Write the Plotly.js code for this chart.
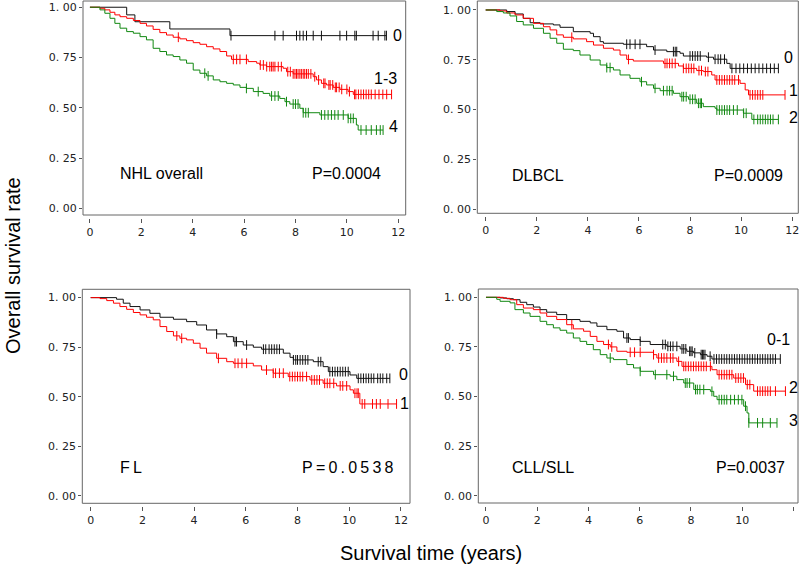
<!DOCTYPE html>
<html>
<head>
<meta charset="utf-8">
<script src="https://cdn.plot.ly/plotly-3.0.1.min.js"></script>
<style>html,body{margin:0;padding:0;background:#fff}</style>
</head>
<body>
<div id="chart" style="width:800px;height:565px"></div>
<script>
// ---------------- DATA ----------------
const xTicks = [0, 2, 4, 6, 8, 10, 12];
const yTicks = [0, 0.25, 0.5, 0.75, 1];
const yTickText = ['0. 00', '0. 25', '0. 50', '0. 75', '1. 00'];
const panelNames = ['NHL overall', 'DLBCL', 'F\u2009L', 'CLL/SLL'];
const panelP = ['P=0.0004', 'P=0.0009', 'P\u2009=\u20090\u2009.\u20090\u20095\u20093\u20098', 'P=0.0037'];

// NHL overall
const nhl0_t = [1.43, 1.75, 3.11, 5.45];
const nhl0_s = [0.962, 0.928, 0.892, 0.859];
const nhl0_c = [5.49, 7.2, 7.52, 8.04, 8.17, 8.3, 8.43, 8.69, 9.01, 9.73, 9.99, 10.31, 10.37, 11.02, 11.22, 11.48, 11.54];
const nhl13_t = [0.39, 0.58, 0.78, 0.97, 1.17, 1.43, 1.69, 1.95, 2.20, 2.46, 2.72, 2.98, 3.24, 3.50, 3.76, 4.02, 4.28, 4.54, 4.80, 5.06, 5.32, 5.51, 6.16, 6.49, 6.61, 6.87, 7.52, 7.65, 7.91, 8.69, 8.82, 9.01, 9.21, 9.47, 9.73, 10.05, 10.25];
const nhl13_s = [0.995, 0.987, 0.975, 0.962, 0.953, 0.945, 0.934, 0.920, 0.907, 0.890, 0.874, 0.862, 0.851, 0.843, 0.834, 0.824, 0.816, 0.804, 0.793, 0.780, 0.758, 0.741, 0.730, 0.722, 0.713, 0.705, 0.697, 0.680, 0.669, 0.655, 0.639, 0.622, 0.614, 0.602, 0.592, 0.581, 0.567];
const nhl13_c = [3.44, 5.58, 5.71, 5.84, 6.09, 6.63, 6.75, 6.88, 7.0, 7.07, 7.13, 7.2, 7.33, 7.45, 7.7, 7.8, 7.91, 7.98, 8.04, 8.1, 8.17, 8.23, 8.3, 8.36, 8.43, 8.5, 8.6, 8.75, 8.9, 9.1, 9.15, 9.3, 9.35, 9.45, 9.55, 9.6, 9.7, 9.8, 10.0, 10.1, 10.3, 10.35, 10.45, 10.55, 10.65, 10.75, 10.85, 10.95, 11.1, 11.25, 11.4, 11.55, 11.74];
const nhl4_t = [0.39, 0.58, 0.78, 0.97, 1.17, 1.43, 1.69, 1.95, 2.20, 2.46, 2.72, 2.98, 3.24, 3.50, 3.76, 4.02, 4.28, 4.54, 4.80, 5.06, 5.32, 5.58, 5.84, 6.09, 6.36, 6.74, 7.0, 7.39, 7.59, 7.78, 8.17, 8.30, 8.95, 10.05, 10.37, 10.44];
const nhl4_s = [0.987, 0.970, 0.945, 0.920, 0.896, 0.879, 0.871, 0.854, 0.838, 0.796, 0.780, 0.763, 0.755, 0.738, 0.722, 0.688, 0.672, 0.659, 0.639, 0.630, 0.622, 0.614, 0.602, 0.597, 0.581, 0.572, 0.559, 0.547, 0.531, 0.519, 0.498, 0.476, 0.465, 0.448, 0.415, 0.390];
const nhl4_c = [4.47, 4.6, 6.09, 6.55, 7.07, 7.2, 7.33, 7.65, 7.91, 8.0, 8.1, 8.3, 8.4, 8.5, 9.01, 9.14, 9.27, 9.4, 9.53, 9.66, 9.86, 10.05, 10.15, 10.25, 10.55, 10.75, 10.95, 11.15, 11.3, 11.41];

// DLBCL
const dl0_t = [0.82, 1.15, 1.47, 1.74, 2.13, 2.65, 2.91, 3.43, 4.09, 4.22, 4.48, 4.61, 5.39, 6.30, 6.57, 7.09, 7.61, 7.74, 8.65, 8.92, 9.44, 9.57];
const dl0_s = [0.992, 0.980, 0.958, 0.936, 0.930, 0.925, 0.913, 0.891, 0.883, 0.866, 0.841, 0.833, 0.828, 0.816, 0.799, 0.791, 0.783, 0.769, 0.763, 0.753, 0.732, 0.707];
const dl0_c = [5.52, 5.65, 5.85, 6.04, 6.63, 7.35, 7.42, 7.48, 8.0, 8.1, 8.2, 8.3, 8.4, 8.72, 8.98, 9.1, 9.2, 9.35, 9.64, 9.8, 9.95, 10.1, 10.25, 10.4, 10.55, 10.7, 10.85, 11.0, 11.15, 11.3, 11.46];
const dl1_t = [0.56, 0.82, 1.15, 1.47, 1.87, 2.26, 2.52, 2.78, 3.04, 3.43, 3.95, 4.22, 4.61, 5.0, 5.26, 5.52, 5.78, 6.96, 7.55, 7.74, 8.26, 8.52, 8.85, 8.98, 9.96, 10.16, 10.29];
const dl1_s = [0.995, 0.985, 0.975, 0.958, 0.933, 0.916, 0.900, 0.875, 0.863, 0.855, 0.841, 0.824, 0.808, 0.799, 0.774, 0.752, 0.744, 0.732, 0.719, 0.707, 0.696, 0.691, 0.674, 0.649, 0.632, 0.599, 0.574];
const dl1_c = [3.37, 5.59, 7.02, 7.1, 7.2, 7.3, 7.42, 7.74, 7.85, 7.95, 8.05, 8.15, 8.35, 8.45, 8.6, 8.7, 9.05, 9.15, 9.25, 9.35, 9.45, 9.55, 9.65, 9.75, 9.9, 10.35, 10.45, 10.55, 10.65, 10.75, 10.85, 11.72];
const dl2_t = [0.43, 0.69, 0.95, 1.21, 1.47, 1.87, 2.26, 2.52, 2.78, 3.04, 3.43, 3.69, 4.09, 4.48, 4.74, 5.0, 5.26, 5.65, 6.04, 6.30, 6.57, 6.83, 7.35, 7.61, 7.94, 8.26, 8.52, 8.98, 9.05, 10.09, 10.42];
const dl2_s = [0.992, 0.985, 0.970, 0.942, 0.925, 0.908, 0.883, 0.858, 0.833, 0.803, 0.796, 0.774, 0.749, 0.724, 0.711, 0.699, 0.674, 0.657, 0.640, 0.624, 0.607, 0.595, 0.582, 0.565, 0.552, 0.532, 0.515, 0.507, 0.498, 0.482, 0.451];
const dl2_c = [4.74, 4.87, 6.1, 6.63, 6.96, 7.1, 7.2, 7.3, 7.68, 7.75, 7.85, 8.0, 8.1, 8.2, 8.33, 8.4, 8.45, 9.05, 9.15, 9.25, 9.35, 9.45, 9.55, 9.7, 9.85, 10.1, 10.2, 10.5, 10.65, 10.75, 10.85, 10.95, 11.05, 11.15, 11.25, 11.46];

// FL
const fl0_t = [1.0, 1.26, 1.52, 1.91, 2.29, 2.68, 3.20, 3.71, 4.10, 4.48, 4.87, 5.26, 5.52, 5.90, 6.29, 6.61, 7.45, 7.71, 7.84, 8.61, 8.99, 9.19, 10.03, 10.29];
const fl0_s = [0.992, 0.972, 0.955, 0.938, 0.921, 0.901, 0.891, 0.879, 0.862, 0.837, 0.817, 0.803, 0.778, 0.761, 0.750, 0.740, 0.720, 0.699, 0.686, 0.677, 0.652, 0.627, 0.610, 0.593];
const fl0_c = [4.87, 5.58, 5.64, 6.03, 6.68, 6.77, 6.9, 7.0, 7.1, 7.2, 7.3, 7.84, 7.93, 8.0, 8.1, 8.2, 8.3, 8.4, 8.8, 8.9, 9.25, 9.35, 9.45, 9.55, 9.65, 9.75, 9.85, 9.96, 10.35, 10.45, 10.55, 10.65, 10.75, 10.85, 10.95, 11.1, 11.2, 11.3, 11.45, 11.57];
const fl1_t = [0.36, 0.62, 0.88, 1.13, 1.39, 1.65, 1.91, 2.16, 2.42, 2.68, 2.94, 3.20, 3.45, 3.71, 3.97, 4.23, 4.48, 4.87, 5.26, 5.52, 6.29, 6.61, 7.06, 7.64, 8.48, 8.99, 9.51, 10.03, 10.16, 10.41];
const fl1_s = [0.995, 0.985, 0.972, 0.955, 0.941, 0.925, 0.913, 0.901, 0.888, 0.854, 0.829, 0.807, 0.795, 0.787, 0.770, 0.745, 0.720, 0.694, 0.677, 0.669, 0.656, 0.635, 0.619, 0.602, 0.585, 0.568, 0.555, 0.535, 0.518, 0.464];
const fl1_c = [3.33, 3.52, 4.94, 5.58, 5.7, 5.85, 6.03, 6.80, 7.06, 7.15, 7.3, 7.45, 7.7, 7.8, 7.9, 8.0, 8.1, 8.2, 8.35, 8.55, 8.65, 8.75, 8.85, 9.05, 9.15, 9.25, 9.4, 9.65, 9.75, 9.9, 10.22, 10.3, 10.35, 10.5, 10.6, 10.9, 11.05, 11.2, 11.5, 11.83];

// CLL/SLL
const cll01_t = [0.55, 0.81, 1.07, 1.33, 1.59, 1.85, 2.11, 2.37, 2.76, 3.15, 3.67, 4.07, 4.33, 4.72, 5.11, 5.37, 5.63, 6.02, 6.41, 7.06, 7.58, 7.84, 8.1, 8.37, 8.63, 8.82];
const cll01_s = [0.997, 0.993, 0.988, 0.975, 0.963, 0.951, 0.938, 0.925, 0.913, 0.888, 0.879, 0.871, 0.854, 0.837, 0.829, 0.795, 0.787, 0.778, 0.762, 0.753, 0.740, 0.728, 0.720, 0.711, 0.703, 0.689];
const cll01_c = [5.50, 5.56, 6.02, 6.9, 7.0, 7.1, 7.2, 7.3, 7.45, 7.65, 7.72, 7.8, 7.95, 8.0, 8.05, 8.15, 8.4, 8.45, 8.5, 8.55, 8.75, 8.9, 9.0, 9.1, 9.2, 9.3, 9.4, 9.5, 9.6, 9.7, 9.8, 9.9, 10.0, 10.1, 10.2, 10.3, 10.4, 10.5, 10.6, 10.7, 10.8, 10.9, 11.0, 11.1, 11.2, 11.3, 11.49];
const cll2_t = [0.68, 0.94, 1.2, 1.46, 1.85, 2.11, 2.37, 2.76, 3.15, 3.41, 3.81, 4.07, 4.33, 4.59, 4.85, 5.11, 5.50, 6.54, 6.67, 7.45, 7.65, 8.82, 9.02, 9.67, 10.13, 10.45];
const cll2_s = [0.995, 0.988, 0.963, 0.946, 0.938, 0.921, 0.904, 0.888, 0.862, 0.841, 0.829, 0.803, 0.778, 0.762, 0.750, 0.728, 0.723, 0.711, 0.694, 0.677, 0.652, 0.635, 0.610, 0.593, 0.560, 0.527];
const cll2_c = [3.35, 4.78, 4.91, 5.63, 5.8, 6.02, 6.54, 6.74, 6.85, 6.95, 7.06, 7.2, 7.3, 7.52, 7.72, 7.8, 7.9, 8.0, 8.1, 8.2, 8.3, 8.4, 8.5, 8.6, 8.76, 9.1, 9.2, 9.3, 9.4, 9.5, 9.6, 9.75, 9.85, 9.95, 10.05, 10.2, 10.3, 10.6, 10.7, 10.8, 10.9, 11.0, 11.1, 11.3, 11.69];
const cll3_t = [0.42, 0.55, 0.94, 1.13, 1.46, 1.72, 2.11, 2.37, 2.63, 2.89, 3.15, 3.41, 3.67, 3.93, 4.19, 4.46, 4.72, 4.98, 5.50, 5.76, 6.02, 6.54, 7.19, 7.45, 7.72, 8.11, 8.76, 8.89, 9.02, 10.06, 10.19, 10.26];
const cll3_s = [0.990, 0.980, 0.972, 0.938, 0.921, 0.904, 0.879, 0.862, 0.846, 0.834, 0.820, 0.795, 0.778, 0.762, 0.736, 0.711, 0.694, 0.686, 0.661, 0.644, 0.627, 0.610, 0.602, 0.585, 0.568, 0.535, 0.526, 0.501, 0.484, 0.451, 0.417, 0.367];
const cll3_c = [4.85, 6.02, 6.61, 7.06, 7.32, 7.78, 7.85, 7.95, 8.18, 8.25, 8.35, 8.5, 8.82, 9.1, 9.2, 9.3, 9.4, 9.55, 9.7, 9.85, 9.99, 10.13, 10.26, 10.6, 10.8, 11.1, 11.36];

// Curve group labels
const groupLabels = [['0', '1-3', '4'], ['0', '1', '2'], ['0', '1'], ['0-1', '2', '3']];

// ---------------- STYLE / LAYOUT ----------------
const BLACK = '#111111', RED = '#ff0000', GREEN = '#118811';
const W = 800, H = 565;
const px = v => v / W, py = v => 1 - v / H;

const panels = [
  { xa: 'x', ya: 'y', box: [83, 1, 405.7, 215], xr: [-0.27, 12.29], yr: [-0.032, 1.031], tickY: 217.5,
    curves: [[nhl0_t, nhl0_s, nhl0_c, BLACK], [nhl13_t, nhl13_s, nhl13_c, RED], [nhl4_t, nhl4_s, nhl4_c, GREEN]],
    labPos: [[11.71, 0.862], [10.96, 0.648], [11.55, 0.407]], namePos: [1.09, 0.176], pPos: [8.56, 0.176] },
  { xa: 'x2', ya: 'y2', box: [477.3, 1, 798.3, 213.3], xr: [-0.33, 12.24], yr: [-0.020, 1.045], tickY: 215.8,
    curves: [[dl0_t, dl0_s, dl0_c, BLACK], [dl1_t, dl1_s, dl1_c, RED], [dl2_t, dl2_s, dl2_c, GREEN]],
    labPos: [[11.59, 0.763], [11.79, 0.595], [11.79, 0.462]], namePos: [0.95, 0.172], pPos: [8.85, 0.172] },
  { xa: 'x3', ya: 'y3', box: [82.3, 289.3, 410, 503.3], xr: [-0.325, 12.35], yr: [-0.037, 1.042], tickY: 505.8,
    curves: [[fl0_t, fl0_s, fl0_c, BLACK], [fl1_t, fl1_s, fl1_c, RED]],
    labPos: [[11.83, 0.614], [11.88, 0.464]], namePos: [1.07, 0.145], pPos: [8.09, 0.145] },
  { xa: 'x4', ya: 'y4', box: [478.3, 289, 798, 503], xr: [-0.30, 12.18], yr: [-0.037, 1.042], tickY: 505.5,
    curves: [[cll01_t, cll01_s, cll01_c, BLACK], [cll2_t, cll2_s, cll2_c, RED], [cll3_t, cll3_s, cll3_c, GREEN]],
    labPos: [[10.91, 0.787], [11.75, 0.546], [11.75, 0.378]], namePos: [0.94, 0.14], pPos: [8.89, 0.14] }
];

function survAt(times, surv, t) {
  let v = 1;
  for (let i = 0; i < times.length; i++) if (times[i] <= t) v = surv[i];
  return v;
}

const traces = [];
const layout = {
  width: W, height: H,
  margin: { l: 0, r: 0, t: 0, b: 0 },
  paper_bgcolor: '#ffffff', plot_bgcolor: '#ffffff',
  showlegend: false,
  shapes: [], annotations: []
};
const tickFont = { family: 'DejaVu Sans, Verdana, sans-serif', size: 11, color: '#222222' };
const textFont = { family: 'Liberation Sans, Arial, sans-serif', size: 16, color: '#000000' };

panels.forEach((p, i) => {
  const n = i === 0 ? '' : String(i + 1);
  const [x0, y0, x1, y1] = p.box;
  layout['xaxis' + n] = {
    domain: [px(x0), px(x1)], range: p.xr, anchor: 'free', position: py(p.tickY),
    tickmode: 'array', tickvals: xTicks, ticktext: xTicks.map(String),
    ticks: 'outside', ticklen: 4, tickwidth: 1, tickcolor: '#555555',
    showline: false, showgrid: false, zeroline: false, tickfont: tickFont, fixedrange: true
  };
  layout['yaxis' + n] = {
    domain: [py(y1), py(y0)], range: p.yr, anchor: p.xa,
    tickmode: 'array', tickvals: yTicks, ticktext: yTickText,
    ticks: 'outside', ticklen: 3, tickwidth: 1, tickcolor: '#555555',
    showline: false, showgrid: false, zeroline: false, tickfont: tickFont, fixedrange: true
  };
  layout.shapes.push({
    type: 'rect', xref: p.xa + ' domain', yref: p.ya + ' domain', x0: 0, x1: 1, y0: 0, y1: 1,
    line: { color: '#666666', width: 1 }, fillcolor: 'rgba(0,0,0,0)', layer: 'above'
  });
  p.curves.forEach(([t, s, c, col], k) => {
    const end = c[c.length - 1];
    traces.push({
      type: 'scatter', mode: 'lines', xaxis: p.xa, yaxis: p.ya,
      x: [0, ...t, end], y: [1, ...s, s[s.length - 1]],
      line: { shape: 'hv', color: col, width: 1 }, hoverinfo: 'skip'
    });
    traces.push({
      type: 'scatter', mode: 'markers', xaxis: p.xa, yaxis: p.ya,
      x: c, y: c.map(v => survAt(t, s, v)),
      marker: { symbol: 'line-ns-open', size: 7, color: col, line: { color: col, width: 1 } },
      hoverinfo: 'skip'
    });
    layout.annotations.push({
      xref: p.xa, yref: p.ya, x: p.labPos[k][0], y: p.labPos[k][1],
      text: groupLabels[i][k], showarrow: false, xanchor: 'left', yanchor: 'middle', font: textFont
    });
  });
  layout.annotations.push({
    xref: p.xa, yref: p.ya, x: p.namePos[0], y: p.namePos[1], text: panelNames[i],
    showarrow: false, xanchor: 'left', yanchor: 'middle', font: textFont
  });
  layout.annotations.push({
    xref: p.xa, yref: p.ya, x: p.pPos[0], y: p.pPos[1], text: panelP[i],
    showarrow: false, xanchor: 'left', yanchor: 'middle', font: textFont
  });
});

const titleFont = { family: 'Liberation Sans, Arial, sans-serif', size: 20, color: '#000000' };
layout.annotations.push({
  xref: 'paper', yref: 'paper', x: px(13), y: py(266), text: 'Overall survival rate',
  textangle: -90, showarrow: false, xanchor: 'center', yanchor: 'middle', font: titleFont
});
layout.annotations.push({
  xref: 'paper', yref: 'paper', x: px(431), y: py(553), text: 'Survival time (years)',
  showarrow: false, xanchor: 'center', yanchor: 'middle', font: titleFont
});

Plotly.newPlot('chart', traces, layout, { staticPlot: true, displayModeBar: false });
</script>
</body>
</html>
